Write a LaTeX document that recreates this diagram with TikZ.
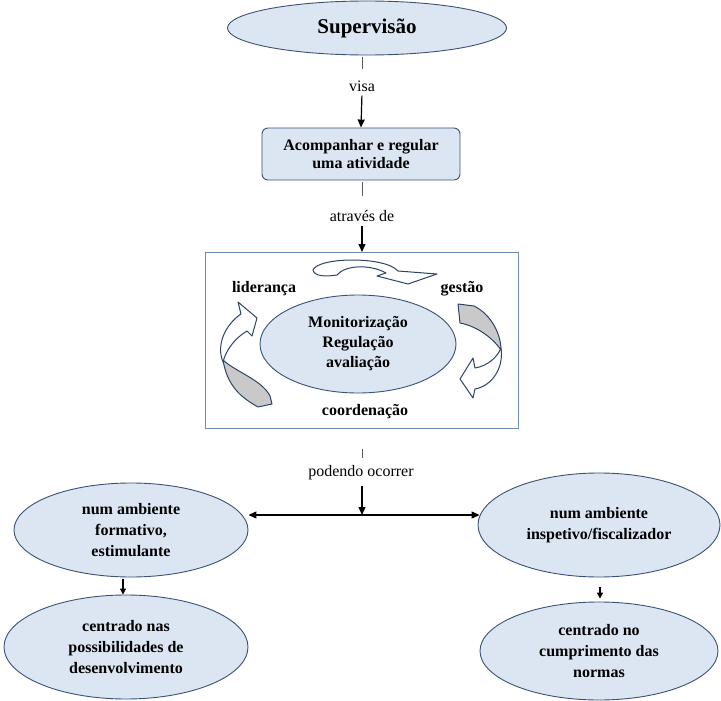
\documentclass[tikz,border=0pt]{standalone}
\usepackage{fontspec}
\setmainfont{Liberation Serif}
\usetikzlibrary{shapes.geometric,arrows.meta,calc}
\definecolor{fillb}{HTML}{DCE6F2}
\definecolor{edgeb}{HTML}{3B5276}
\definecolor{frameb}{HTML}{6E8DB4}
\definecolor{ribbon}{HTML}{2E4466}
\definecolor{under}{HTML}{C9C9C9}
\begin{document}
\begin{tikzpicture}[x=1pt,y=-1pt,
  bub/.style={ellipse, draw=edgeb, fill=fillb, line width=0.9pt, inner sep=0pt, align=center, font=\fontsize{16}{21}\selectfont\bfseries},
  lbl/.style={font=\fontsize{16}{19}\selectfont, inner sep=1pt},
  blbl/.style={font=\fontsize{16}{19}\selectfont\bfseries, inner sep=1pt},
  arr/.style={line width=1.2pt, -{Triangle[length=8pt,width=7pt]}},
  arrs/.style={line width=1.1pt, -{Triangle[length=6pt,width=6pt]}},
  tick/.style={draw=black!65, line width=0.8pt},
  rib/.style={draw=ribbon, line width=1pt, fill=white, line join=round}]
\useasboundingbox (0,0) rectangle (721,701);

% top chain
\node[bub, minimum width=279, minimum height=54, font=\fontsize{21}{24}\selectfont\bfseries] (sup) at (367,28) {Supervisão};
\node[lbl] (visa) at (362,86) {visa};
\node[draw=edgeb, fill=fillb, rounded corners=6pt, minimum width=198, minimum height=52, align=center,
      font=\fontsize{16}{18.5}\selectfont\bfseries, line width=0.9pt, inner sep=0pt] (acomp) at (361,154) {Acompanhar e regular\\uma atividade};
\node[lbl] (atr) at (362,216) {através de};

\draw[tick] ($(visa |- sup.south)+(0,2)$) -- ++(0,12);
\draw[arr, shorten <=3pt] (visa.south) -- (acomp.north);
\draw[tick] ($(atr |- acomp.south)+(0,2)$) -- ++(0,14);
\draw[arr, shorten <=3pt] (atr.south) -- (atr |- 0,252);

% frame
\node[draw=frameb, line width=1pt, minimum width=313, minimum height=176, inner sep=0pt] (frame) at (361.5,340) {};
\node[bub, minimum width=196, minimum height=98, font=\fontsize{16}{20}\selectfont\bfseries] (mon) at (358,344) {Monitorização\\Regulação\\avaliação};
\node[blbl] (lid) at (264,289) {liderança};
\node[blbl] (ges) at (462,289) {gestão};
\node[blbl] (coo) at (365,412) {coordenação};

% top ribbon arrow
\draw[rib] (313,270) .. controls (318,257) and (385,256) .. (398,271) -- (437,274) -- (408,284) -- (377,276) -- (386,273)
  .. controls (370,264) and (345,265) .. (337,275) .. controls (325,277) and (314,276) .. cycle;
% left ribbon arrow
\draw[rib, fill=under] (223,360) .. controls (236,372) and (262,380) .. (270,396) -- (272,404) -- (258,407)
  .. controls (240,397) and (227,385) .. cycle;
\draw[rib] (223,362) .. controls (216,345) and (225,325) .. (241,314) -- (238,302) -- (257,318) -- (252,336) -- (247,331)
  .. controls (235,338) and (226,350) .. cycle;
% right ribbon arrow
\draw[rib, fill=under] (458,304) -- (474,306) .. controls (492,315) and (501,335) .. (501,350)
  .. controls (492,337) and (476,326) .. (460,323) -- cycle;
\draw[rib] (501,348) .. controls (504,368) and (492,386) .. (475,389) -- (473,398) -- (460,379) -- (473,358) -- (475,368)
  .. controls (487,366) and (497,358) .. cycle;

% bottom
\node[lbl] (pod) at (361,473) {podendo ocorrer};
\coordinate (mid) at (362,515);
\draw[tick] ($(pod.north)+(1,-7)$) -- ++(0,-9);
\draw[arr, shorten <=5pt] (pod.south -| mid) -- (mid);

\node[bub, minimum width=234, minimum height=94] (L1) at (131,530) {num ambiente\\formativo,\\estimulante};
\node[bub, minimum width=244, minimum height=104] (L2) at (126,647) {centrado nas\\possibilidades de\\desenvolvimento};
\node[bub, minimum width=242, minimum height=104] (R1) at (599,525) {num ambiente\\inspetivo/fiscalizador};
\node[bub, minimum width=238, minimum height=98] (R2) at (599,651) {centrado no\\cumprimento das\\normas};

\draw[arr] (mid) -- (mid -| L1.east);
\draw[arr] (mid) -- ($(mid -| R1.west)+(2,0)$);
\draw[arrs] ($(L1.south)+(-8,2)$) -- ($(L2.north)+(-3,0)$);
\draw[arrs] ($(R1.south)+(1,10)$) -- ($(R2.north)+(1,-3)$);
\end{tikzpicture}
\end{document}
